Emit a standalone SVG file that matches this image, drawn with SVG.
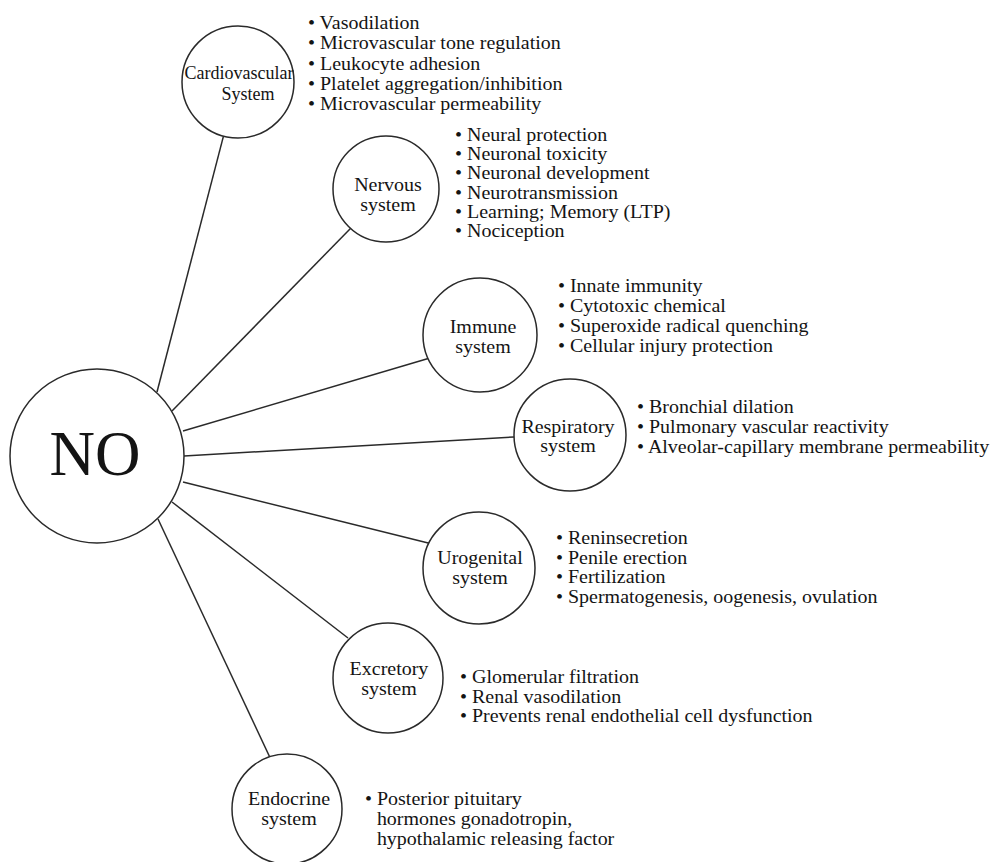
<svg xmlns="http://www.w3.org/2000/svg" width="1001" height="862" viewBox="0 0 1001 862">
<style>
.c{fill:#fff;stroke:#2a2a2a;stroke-width:1.5}
.e{stroke:#2a2a2a;stroke-width:1.5;fill:none}
text{font-family:"Liberation Serif","Times New Roman",serif;fill:#141414}
.lbl{font-size:18.5px;text-anchor:middle}
.lst{font-size:18.5px}
</style>
<rect width="1001" height="862" fill="#fff"/>
<g id="connectors">
<line class="e" x1="157" y1="392" x2="223.4" y2="136.4"/>
<line class="e" x1="172" y1="411" x2="350.7" y2="228.2"/>
<line class="e" x1="183" y1="431" x2="428.2" y2="358.5"/>
<line class="e" x1="184" y1="456" x2="514" y2="437"/>
<line class="e" x1="183" y1="482" x2="429.2" y2="543.3"/>
<line class="e" x1="172" y1="502" x2="348" y2="638"/>
<line class="e" x1="158" y1="519" x2="273" y2="764"/>
</g>
<g id="no">
<circle class="c" cx="97" cy="456" r="87"/>
<text x="95" y="475" font-size="63" text-anchor="middle">NO</text>
</g>
<g id="cardiovascular">
<circle class="c" cx="238" cy="82" r="56"/>
<text x="239" y="79" font-size="18" text-anchor="middle">Cardiovascular</text>
<text x="248" y="100" font-size="18" text-anchor="middle">System</text>
<g transform="matrix(1.08,0,0,1,-24.64,0)">
<text class="lst" x="308" y="29">• Vasodilation</text>
<text class="lst" x="308" y="49.5">• Microvascular tone regulation</text>
<text class="lst" x="308" y="70">• Leukocyte adhesion</text>
<text class="lst" x="308" y="90">• Platelet aggregation/inhibition</text>
<text class="lst" x="308" y="110">• Microvascular permeability</text>
</g>
</g>
<g id="nervous">
<circle class="c" cx="386" cy="189" r="53"/>
<g transform="matrix(1.08,0,0,1,-31.04,0)">
<text class="lbl" x="388" y="191">Nervous</text>
<text class="lbl" x="388" y="211">system</text>
</g>
<g transform="matrix(1.08,0,0,1,-36.4,0)">
<text class="lst" x="455" y="141">• Neural protection</text>
<text class="lst" x="455" y="160">• Neuronal toxicity</text>
<text class="lst" x="455" y="179.5">• Neuronal development</text>
<text class="lst" x="455" y="199">• Neurotransmission</text>
<text class="lst" x="455" y="218">• Learning; Memory (LTP)</text>
<text class="lst" x="455" y="237">• Nociception</text>
</g>
</g>
<g id="immune">
<circle class="c" cx="480" cy="335" r="57"/>
<g transform="matrix(1.08,0,0,1,-38.64,0)">
<text class="lbl" x="483" y="333">Immune</text>
<text class="lbl" x="483" y="353">system</text>
</g>
<g transform="matrix(1.08,0,0,1,-44.64,0)">
<text class="lst" x="558" y="292">• Innate immunity</text>
<text class="lst" x="558" y="312">• Cytotoxic chemical</text>
<text class="lst" x="558" y="332">• Superoxide radical quenching</text>
<text class="lst" x="558" y="352">• Cellular injury protection</text>
</g>
</g>
<g id="respiratory">
<circle class="c" cx="570" cy="435" r="56"/>
<g transform="matrix(1.08,0,0,1,-45.44,0)">
<text class="lbl" x="568" y="433">Respiratory</text>
<text class="lbl" x="568" y="452">system</text>
</g>
<g transform="matrix(1.08,0,0,1,-50.96,0)">
<text class="lst" x="637" y="413">• Bronchial dilation</text>
<text class="lst" x="637" y="433">• Pulmonary vascular reactivity</text>
<text class="lst" x="637" y="453">• Alveolar-capillary membrane permeability</text>
</g>
</g>
<g id="urogenital">
<circle class="c" cx="479" cy="568" r="56"/>
<g transform="matrix(1.08,0,0,1,-38.4,0)">
<text class="lbl" x="480" y="564">Urogenital</text>
<text class="lbl" x="480" y="584">system</text>
</g>
<g transform="matrix(1.08,0,0,1,-44.48,0)">
<text class="lst" x="556" y="544">• Reninsecretion</text>
<text class="lst" x="556" y="564">• Penile erection</text>
<text class="lst" x="556" y="583.5">• Fertilization</text>
<text class="lst" x="556" y="603">• Spermatogenesis, oogenesis, ovulation</text>
</g>
</g>
<g id="excretory">
<circle class="c" cx="388" cy="678" r="55"/>
<g transform="matrix(1.08,0,0,1,-31.12,0)">
<text class="lbl" x="389" y="675">Excretory</text>
<text class="lbl" x="389" y="695">system</text>
</g>
<g transform="matrix(1.08,0,0,1,-36.8,0)">
<text class="lst" x="460" y="683">• Glomerular filtration</text>
<text class="lst" x="460" y="703">• Renal vasodilation</text>
<text class="lst" x="460" y="722.5">• Prevents renal endothelial cell dysfunction</text>
</g>
</g>
<g id="endocrine">
<circle class="c" cx="287" cy="809" r="55"/>
<g transform="matrix(1.08,0,0,1,-23.12,0)">
<text class="lbl" x="289" y="805">Endocrine</text>
<text class="lbl" x="289" y="825">system</text>
</g>
<g transform="matrix(1.08,0,0,1,-29.2,0)">
<text class="lst" x="365" y="805">• Posterior pituitary</text>
<text class="lst" x="376" y="825">hormones gonadotropin,</text>
<text class="lst" x="376" y="845">hypothalamic releasing factor</text>
</g>
</g>
</svg>
